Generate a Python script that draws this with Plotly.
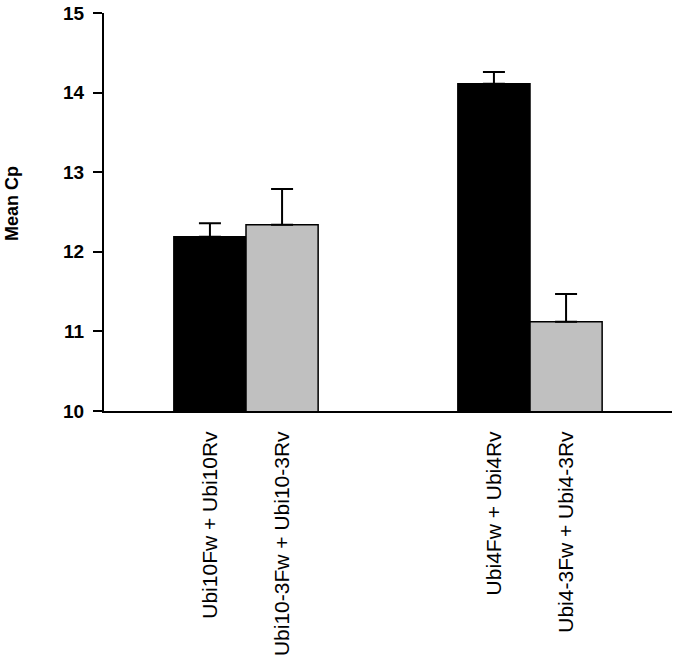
import plotly.graph_objects as go

# ---- data ----
groups = [0, 1]
labels_black = ["Ubi10Fw + Ubi10Rv", "Ubi4Fw + Ubi4Rv"]
labels_gray = ["Ubi10-3Fw + Ubi10-3Rv", "Ubi4-3Fw + Ubi4-3Rv"]
values_black = [12.19, 14.11]
values_gray = [12.34, 11.12]
err_black = [0.17, 0.15]
err_gray = [0.45, 0.35]
y_ticks = [10, 11, 12, 13, 14, 15]

# ---- style ----
bar_w = 0.254
FONT = "Arial, Liberation Sans, sans-serif"

x_black = [g - bar_w / 2 for g in groups]
x_gray = [g + bar_w / 2 for g in groups]

fig = go.Figure()
fig.add_trace(go.Bar(
    x=x_black, y=values_black, width=bar_w,
    marker=dict(color="#000000", line=dict(color="#000000", width=1.5)),
    error_y=dict(type="data", array=err_black, arrayminus=[0] * len(err_black),
                 symmetric=False, color="#000000", thickness=2, width=11),
    showlegend=False,
))
fig.add_trace(go.Bar(
    x=x_gray, y=values_gray, width=bar_w,
    marker=dict(color="#c0c0c0", line=dict(color="#000000", width=1.5)),
    error_y=dict(type="data", array=err_gray, arrayminus=[0] * len(err_gray),
                 symmetric=False, color="#000000", thickness=2, width=11),
    showlegend=False,
))

tickvals = []
ticktext = []
for i in range(len(groups)):
    tickvals += [x_black[i], x_gray[i]]
    ticktext += [labels_black[i], labels_gray[i]]

fig.update_layout(
    template="none",
    width=679, height=671,
    margin=dict(l=104, r=7, t=13, b=260, autoexpand=False),
    paper_bgcolor="white", plot_bgcolor="white",
    barmode="overlay",
    font=dict(family=FONT, color="#000000"),
    xaxis=dict(
        range=[-0.5, 1.5],
        tickvals=tickvals, ticktext=ticktext,
        tickangle=-90,
        tickfont=dict(size=21, family=FONT),
        ticks="outside", ticklen=10, tickcolor="rgba(0,0,0,0)",
        showline=True, linecolor="#000000", linewidth=2,
        showgrid=False, zeroline=False, automargin=False,
    ),
    yaxis=dict(
        range=[10, 15],
        tickvals=y_ticks,
        ticktext=["<b>%d</b>" % t for t in y_ticks],
        tickfont=dict(size=19, family=FONT),
        ticks="outside", ticklen=9, tickwidth=2, tickcolor="#000000",
        ticklabelstandoff=5, ticklabeloverflow="allow",
        showline=True, linecolor="#000000", linewidth=2,
        showgrid=False, zeroline=False, automargin=False,
    ),
    annotations=[dict(
        text="<b>Mean Cp</b>", xref="paper", yref="paper",
        x=0, y=0.52, xshift=-92, xanchor="center", yanchor="middle",
        textangle=-90, showarrow=False,
        font=dict(size=18, family=FONT, color="#000000"),
    )],
)

fig.write_html(
    "out.html",
    config={"displayModeBar": False},
    post_script="document.body.style.margin='0';document.body.style.overflow='hidden';",
)
